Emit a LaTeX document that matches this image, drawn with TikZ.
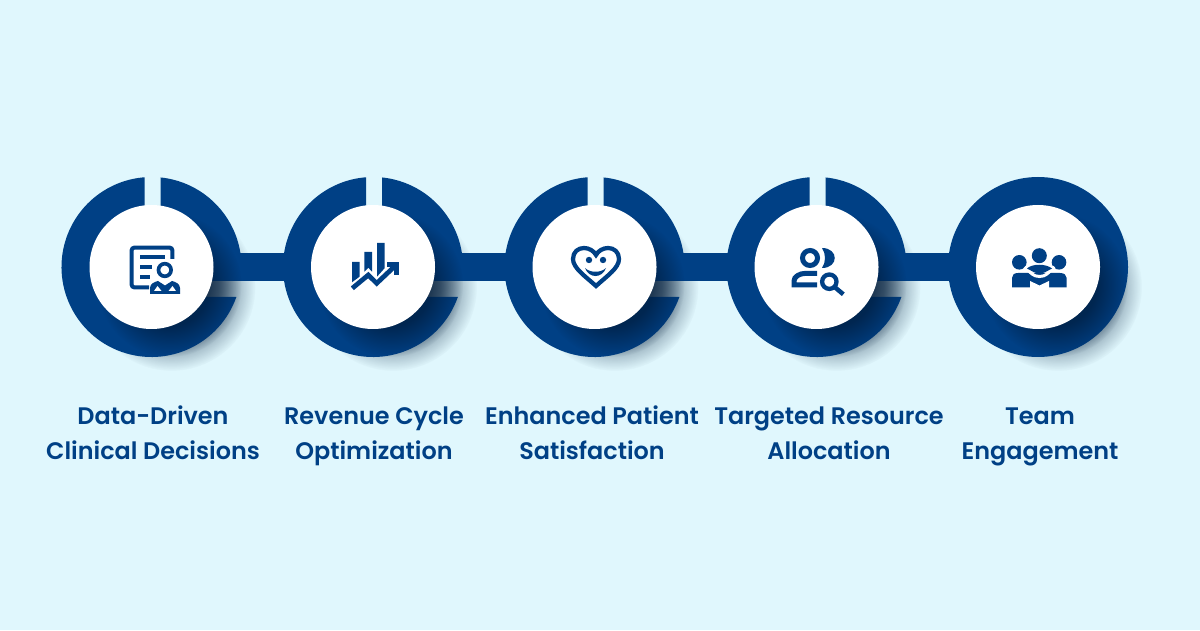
\documentclass[tikz,border=0pt]{standalone}
\usepackage{fontspec}
\newfontfamily\labelfont{Poppins SemiBold}
\usepackage{tikz}
\usetikzlibrary{calc,fadings}
\definecolor{HubNavy}{HTML}{004085}
\definecolor{HubPale}{HTML}{E0F7FD}
\definecolor{HubShade}{HTML}{001A38}
\pgfdeclareradialshading{softedgeshade}{\pgfpointorigin}{color(0bp)=(transparent!0); color(14bp)=(transparent!0); color(25bp)=(transparent!100); color(50bp)=(transparent!100)}
\pgfdeclarefading{softedge}{\pgfuseshading{softedgeshade}}
\pgfdeclarelayer{back}
\pgfdeclarelayer{band}
\pgfdeclarelayer{shade}
\pgfsetlayers{back,band,shade,main}
\tikzset{
  hubdisk/.style={circle,fill=white,minimum size=24.8mm,inner sep=0pt},
  hublink/.style={HubNavy,line width=5.6mm,shorten >=1mm,shorten <=1mm},
  hublabel/.style={align=center,anchor=base,text=HubNavy,font=\fontsize{13.6}{19.9}\labelfont\selectfont},
  iconline/.style={draw=HubNavy,line width=#1},
  iconline/.default=0.8mm,
  softshadow/.style={fill=HubShade,path fading=softedge,fit fading=true}
}
% shadows, then the ring with its two cuts
\newcommand{\hubshadows}[1]{%
  \begin{pgfonlayer}{back}
    \path[softshadow,opacity=.55] ($(#1)+(20,-20)$) circle[radius=84];
  \end{pgfonlayer}
  \begin{pgfonlayer}{shade}
    \path[softshadow,opacity=.68] ($(#1)+(18,-18)$) circle[radius=72];
  \end{pgfonlayer}}
\newcommand{\hubring}[1]{%
  \begin{pgfonlayer}{band}
    \fill[HubNavy] ($(#1)+(84.26:90)$) arc[start angle=84.26,end angle=-8.95,radius=90]
      -- ($(#1)+(40,-14)$) -- ($(#1)+(40,-30)$) -- ($(#1)+(-19.47:90)$)
      arc[start angle=-19.47,end angle=-265.54,radius=90]
      -- ($(#1)+(-7,40)$) -- ($(#1)+(9,40)$) -- cycle;
  \end{pgfonlayer}}
\begin{document}
\begin{tikzpicture}[x=0.2mm,y=0.2mm]
  \useasboundingbox (0,0) rectangle (1200,630);
  \begin{pgfonlayer}{back}
    \fill[HubPale] (0,0) rectangle (1200,630);
  \end{pgfonlayer}

  \node[hubdisk] (hubA) at (151.5,363) {};
  \node[hubdisk] (hubB) at (373,363) {};
  \node[hubdisk] (hubC) at (594.5,363) {};
  \node[hubdisk] (hubD) at (816.5,363) {};
  \node[hubdisk] (hubE) at (1038,363) {};

  \hubshadows{hubA}
  \hubshadows{hubB}
  \hubshadows{hubC}
  \hubshadows{hubD}
  \hubshadows{hubE}
  \hubring{hubA}
  \hubring{hubB}
  \hubring{hubC}
  \hubring{hubD}
  \begin{pgfonlayer}{band}
    \fill[HubNavy] (hubE) circle[radius=90];
    \draw[hublink] (hubA) -- (hubB);
    \draw[hublink] (hubB) -- (hubC);
    \draw[hublink] (hubC) -- (hubD);
    \draw[hublink] (hubD) -- (hubE);
  \end{pgfonlayer}

  % document with person
  \draw[iconline,rounded corners=0.5mm] (172.3,371) -- (172.3,382.3) -- (131.7,382.3) -- (131.7,342.7) -- (149,342.7);
  \draw[iconline=0.7mm] (140,373) -- (165,373);
  \draw[iconline=0.7mm] (140,363) -- (152,363);
  \draw[iconline=0.7mm] (140,353) -- (150,353);
  \draw[iconline=0.74mm] (164.8,360) circle[radius=6.3];
  \fill[HubNavy] (150,336) -- (150,342) .. controls (150,346) and (154,348) .. (158,349) -- (165,344.5)
    -- (172,349) .. controls (176,348) and (180,346) .. (180,342) -- (180,336) -- cycle;
  \fill[white] (154,339) -- (161.5,339) -- (157.5,344) -- cycle;
  \fill[white] (168.5,339) -- (176,339) -- (172.5,344) -- cycle;

  % bars and rising arrow
  \fill[HubNavy] (352,368) -- (359.5,368) -- (359.5,353.3) -- (352,347.7) -- cycle;
  \fill[HubNavy] (364.3,378) -- (372,378) -- (372,358.3) -- (368.3,362.3) -- (364.3,358.3) -- cycle;
  \fill[HubNavy] (377,387) -- (384.5,387) -- (384.5,361.7) -- (377,353.3) -- cycle;
  \draw[iconline=0.95mm] (352.3,341.7) -- (368.3,355) -- (376.7,346.7) -- (395,364);
  \draw[iconline=1mm] (387,365) -- (396,365) -- (396,355);

  % heart with face
  \draw[iconline=0.85mm] (596,344) .. controls (585,354) and (573,362) .. (573,371)
    .. controls (573,378) and (578,382) .. (584,382) .. controls (589,382) and (594,379) .. (596,375)
    .. controls (598,379) and (603,382) .. (608,382) .. controls (614,382) and (619,378) .. (619,371)
    .. controls (619,362) and (607,354) .. (596,344) -- cycle;
  \fill[HubNavy] (589,370) circle[radius=3.2];
  \fill[HubNavy] (603,370) circle[radius=3.2];
  \fill[HubNavy] (585,362) .. controls (589,351.3) and (602,351.3) .. (606,362)
    .. controls (601,357) and (590,357) .. (585,362) -- cycle;

  % people with magnifier
  \draw[iconline=1mm] (810,372) circle[radius=7.5];
  \fill[HubNavy] (822,382) .. controls (839,382) and (839,362) .. (822,362)
    .. controls (826,368) and (826,376) .. (822,382) -- cycle;
  \draw[iconline=1mm] (817,356.7) -- (806,356.7) .. controls (799,356.7) and (794,353) .. (794,349) -- (794,345) -- (817,345);
  \draw[iconline=0.86mm] (829.3,348.3) circle[radius=7.2];
  \draw[iconline=0.9mm] (834.8,342.8) -- (843.3,335.7);

  % team
  \fill[HubNavy] (1039.3,374.3) circle[radius=7.5];
  \fill[HubNavy] (1019.3,367.7) circle[radius=7.3];
  \fill[HubNavy] (1059,367.7) circle[radius=7.3];
  \fill[HubNavy] (1012,342.7) -- (1012,352) .. controls (1012,355) and (1014,357) .. (1018,357) -- (1060,357)
    .. controls (1064,357) and (1066.7,355) .. (1066.7,352) -- (1066.7,342.7) -- cycle;
  \draw[white,line width=0.6mm] (1024.5,363) .. controls (1031,357) and (1033,353.5) .. (1039.5,353.5)
    .. controls (1046,353.5) and (1048,357) .. (1054.5,363);
  \fill[white] (1030,342) -- (1030,349) -- (1039.5,344.5) -- (1049,349) -- (1049,342) -- cycle;
  \fill[HubNavy] (1027,361.5) .. controls (1032,366.5) and (1046,366.5) .. (1052,361.5)
    .. controls (1047,359) and (1044,356.5) .. (1039.5,356.5) .. controls (1035,356.5) and (1032,359) .. (1027,361.5) -- cycle;

  \node[hublabel] (textA) at (153,171) {Data-Driven\\Clinical Decisions};
  \node[hublabel] (textB) at (374,171) {Revenue Cycle\\Optimization};
  \node[hublabel] (textC) at (592,171) {Enhanced Patient\\Satisfaction};
  \node[hublabel] (textD) at (829,171) {Targeted Resource\\Allocation};
  \node[hublabel] (textE) at (1040,171) {Team\\Engagement};
\end{tikzpicture}
\end{document}
